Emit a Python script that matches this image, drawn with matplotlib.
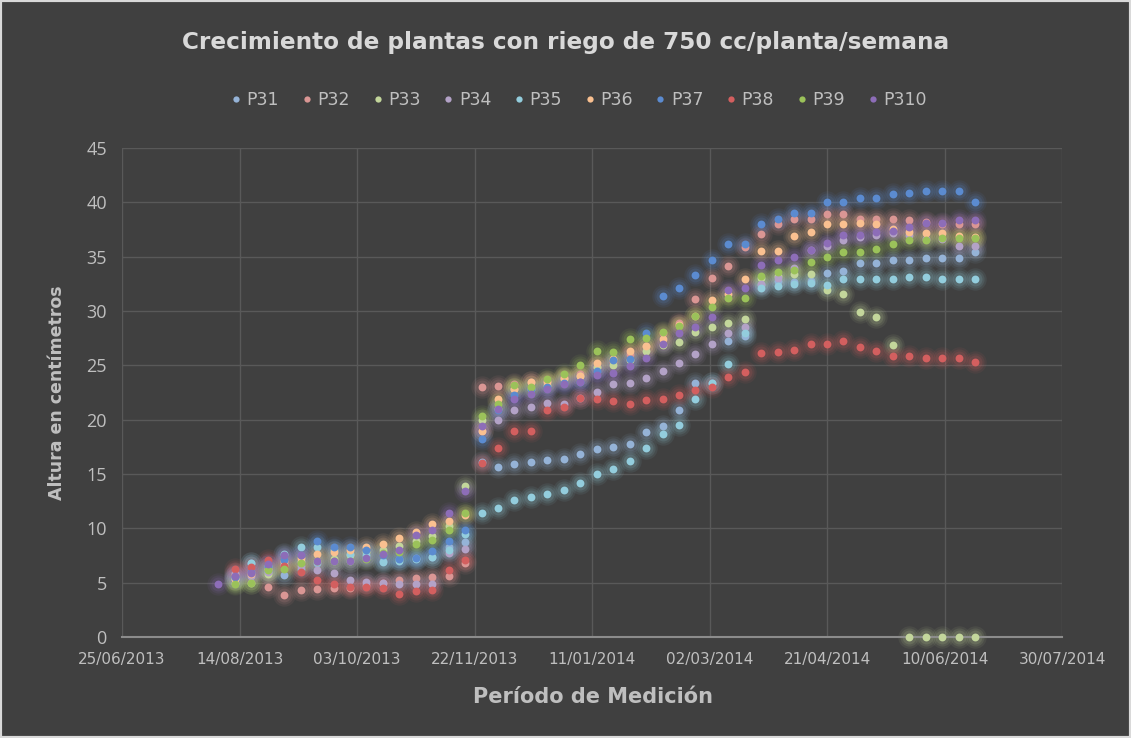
import matplotlib
matplotlib.use("Agg")
import matplotlib.pyplot as plt
import matplotlib.dates as mdates
from matplotlib.lines import Line2D
from matplotlib.patches import Rectangle
from datetime import datetime
import numpy as np

nan = np.nan

# fechas de medición (semanales)
fechas = ["2013-08-05", "2013-08-12", "2013-08-19", "2013-08-26", "2013-09-02", "2013-09-09",
          "2013-09-16", "2013-09-23", "2013-09-30", "2013-10-07", "2013-10-14", "2013-10-21",
          "2013-10-28", "2013-11-04", "2013-11-11", "2013-11-18", "2013-11-25", "2013-12-02",
          "2013-12-09", "2013-12-16", "2013-12-23", "2013-12-30", "2014-01-06", "2014-01-13",
          "2014-01-20", "2014-01-27", "2014-02-03", "2014-02-10", "2014-02-17", "2014-02-24",
          "2014-03-03", "2014-03-10", "2014-03-17", "2014-03-24", "2014-03-31", "2014-04-07",
          "2014-04-14", "2014-04-21", "2014-04-28", "2014-05-05", "2014-05-12", "2014-05-19",
          "2014-05-26", "2014-06-02", "2014-06-09", "2014-06-16", "2014-06-23"]

p31 = [nan, 5.5, 6.8, 6.0, 5.7, 6.3, 6.8, 7.0, 7.0, 7.3, 7.0, 7.2, 7.3, 7.4, 8.3, 8.7,
       16.1, 15.6, 15.9, 16.1, 16.3, 16.4, 16.8, 17.3, 17.5, 17.8, 18.9, 19.4, 20.9, 23.4, 23.4,
       27.2, 27.7, 32.4, 32.8, 32.7, 32.8, 33.5, 33.7, 34.4, 34.4, 34.7, 34.7, 34.9, 34.9, 34.9, 35.4]
p32 = [nan, 5.8, 6.0, 4.6, 3.9, 4.3, 4.4, 4.5, 4.5, 4.8, 5.0, 5.2, 5.4, 5.5, 5.6, 6.8,
       23.0, 23.1, 23.3, 23.5, 23.6, 23.9, 24.2, 24.8, 25.3, 26.0, 26.8, 28.0, 28.9, 31.1, 33.0,
       34.1, 35.9, 37.1, 38.0, 38.5, 38.5, 38.9, 38.9, 38.5, 38.5, 38.5, 38.4, 38.2, 38.0, 38.0, 38.0]
p33 = [nan, 5.0, 5.0, 5.8, 6.6, 7.0, 7.0, 7.2, 7.5, 7.8, 8.0, 8.4, 8.8, 9.3, 10.2, 13.9,
       20.0, 21.0, 22.8, 22.8, 23.2, 23.7, 24.0, 24.8, 25.0, 25.5, 26.3, 26.9, 27.1, 28.1, 28.5,
       28.9, 29.3, 33.0, 33.2, 33.4, 33.4, 31.9, 31.6, 29.9, 29.4, 26.9, 0, 0, 0, 0, 0]
p34 = [nan, 5.9, 5.6, 6.0, 6.8, 6.5, 6.2, 5.9, 5.2, 5.1, 5.0, 4.9, 4.9, 4.9, 7.7, 8.1,
       19.0, 20.0, 20.9, 21.2, 21.5, 21.4, 22.0, 22.5, 23.3, 23.4, 23.8, 24.5, 25.2, 26.0, 27.0,
       28.0, 28.5, 32.5, 33.0, 34.0, 35.6, 36.0, 36.5, 36.8, 37.0, 37.2, 37.0, 36.6, 36.6, 36.0, 36.0]
p35 = [nan, 5.3, 6.8, 6.5, 7.6, 8.3, 8.3, 8.0, 7.6, 7.5, 6.9, 7.0, 7.2, 7.4, 8.0, 9.5,
       11.4, 11.9, 12.6, 12.9, 13.2, 13.5, 14.2, 15.0, 15.5, 16.2, 17.4, 18.7, 19.5, 21.9, 23.4,
       25.1, 28.0, 32.1, 32.3, 32.5, 32.6, 32.4, 32.9, 32.9, 32.9, 32.9, 33.1, 33.1, 32.9, 32.9, 32.9]
p36 = [nan, 5.3, 5.8, 6.3, 7.0, 7.3, 7.6, 7.8, 8.0, 8.3, 8.6, 9.1, 9.7, 10.4, 10.7, 11.2,
       19.0, 21.9, 22.8, 23.5, 23.5, 23.8, 24.0, 25.2, 25.6, 26.3, 26.8, 27.4, 28.7, 29.5, 31.0,
       31.6, 32.9, 35.5, 35.5, 36.9, 37.3, 38.0, 38.0, 38.1, 38.0, 37.5, 37.3, 37.2, 37.2, 36.9, 36.8]
p37 = [nan, 5.5, 6.0, 6.5, 7.1, 7.5, 8.8, 8.3, 8.3, 8.0, 7.5, 7.2, 7.3, 7.9, 8.8, 9.8,
       18.2, 20.9, 22.3, 22.8, 23.0, 23.4, 23.5, 24.5, 25.5, 25.6, 28.0, 31.4, 32.1, 33.3, 34.7,
       36.2, 36.2, 38.0, 38.5, 39.0, 39.0, 40.0, 40.0, 40.4, 40.4, 40.8, 40.9, 41.0, 41.0, 41.0, 40.0]
p38 = [nan, 6.3, 6.4, 7.1, 6.5, 6.0, 5.2, 4.9, 4.6, 4.6, 4.5, 4.0, 4.2, 4.3, 6.2, 7.1,
       16.0, 17.4, 19.0, 19.0, 20.9, 21.2, 22.0, 21.9, 21.7, 21.4, 21.8, 21.9, 22.3, 22.7, 23.0,
       23.9, 24.4, 26.1, 26.2, 26.4, 27.0, 27.0, 27.2, 26.7, 26.3, 25.9, 25.9, 25.7, 25.7, 25.7, 25.3]
p39 = [nan, 4.9, 5.0, 6.2, 6.3, 6.8, 7.0, 7.0, 7.0, 7.2, 7.7, 7.8, 8.6, 8.9, 9.8, 11.4,
       20.3, 21.4, 23.2, 23.0, 23.7, 24.2, 25.0, 26.3, 26.2, 27.4, 27.5, 28.1, 28.6, 29.5, 30.4,
       31.2, 31.2, 33.2, 33.6, 33.8, 34.5, 35.0, 35.4, 35.4, 35.7, 36.2, 36.5, 36.5, 36.7, 36.7, 36.7]
p310 = [4.9, 5.6, 5.9, 6.7, 7.5, 7.5, 7.0, 7.0, 7.0, 7.3, 7.6, 8.0, 9.4, 9.8, 11.4, 13.4,
        19.4, 21.0, 21.9, 22.4, 22.8, 23.3, 23.5, 24.1, 24.3, 24.9, 25.7, 27.0, 28.0, 28.5, 29.4,
        31.9, 32.1, 34.2, 34.7, 35.0, 35.6, 36.3, 37.0, 37.0, 37.3, 37.4, 37.7, 38.1, 38.1, 38.4, 38.4]

nombres = ["P31", "P32", "P33", "P34", "P35", "P36", "P37", "P38", "P39", "P310"]
valores = [p31, p32, p33, p34, p35, p36, p37, p38, p39, p310]
colores = ["#95B3D7", "#DA9694", "#C3D69B", "#B3A2C7", "#93CDDD",
           "#FAC090", "#5B8BD0", "#D35F5F", "#9BC25A", "#8D6DB8"]

ticks_x = ["25/06/2013", "14/08/2013", "03/10/2013", "22/11/2013", "11/01/2014",
           "02/03/2014", "21/04/2014", "10/06/2014", "30/07/2014"]

bg = "#404040"
txt = "#bfbfbf"

fig = plt.figure(figsize=(11.31, 7.38), dpi=100, facecolor=bg)
ax = fig.add_axes([0.1079, 0.1369, 0.8311, 0.6626])
ax.set_facecolor(bg)

x = mdates.date2num([datetime.strptime(d, "%Y-%m-%d") for d in fechas])
tx = mdates.date2num([datetime.strptime(d, "%d/%m/%Y") for d in ticks_x])

# glow
for v, c in zip(valores, colores):
    for s, a in [(260, 0.08), (170, 0.11), (100, 0.15)]:
        ax.scatter(x, v, s=s, color=c, alpha=a, linewidths=0, zorder=2, clip_on=False)
for v, c in zip(valores, colores):
    ax.scatter(x, v, s=32, color=c, linewidths=0, zorder=3, clip_on=False)

ax.set_xlim(tx[0], tx[-1])
ax.set_ylim(0, 45)
ax.set_xticks(tx)
ax.set_xticklabels(ticks_x)
ax.set_yticks(range(0, 50, 5))
ax.grid(True, color="#595959", linewidth=1.0, zorder=0)
ax.set_axisbelow(True)
for sp in ["top", "right", "left"]:
    ax.spines[sp].set_visible(False)
ax.spines["bottom"].set_color("#8c8c8c")
ax.spines["bottom"].set_linewidth(1.5)
ax.tick_params(axis="both", length=0, colors=txt)
ax.tick_params(axis="x", labelsize=11, pad=11)
ax.tick_params(axis="y", labelsize=13, pad=11)
for lb in ax.get_yticklabels():
    lb.set_family("Open Sans")

fig.text(0.5, 0.942, "Crecimiento de plantas con riego de 750 cc/planta/semana",
         ha="center", va="center", fontsize=16.7, weight="bold", color="#d9d9d9")
fig.text(57 / 1131, 1 - 393 / 738, "Altura en centímetros", rotation=90,
         ha="center", va="center", fontsize=12.5, weight="bold", color=txt)
fig.text(593 / 1131, 1 - 697 / 738, "Período de Medición",
         ha="center", va="center", fontsize=15, weight="bold", color=txt)

handles = [Line2D([], [], marker="o", linestyle="", markersize=4.5, color=c, markeredgewidth=0)
           for c in colores]
fig.legend(handles, nombres, loc="center", bbox_to_anchor=(0.511, 0.864), ncol=10,
           frameon=False, fontsize=12.5, labelcolor=txt, handletextpad=0.2,
           columnspacing=1.2, handlelength=0.8)

fig.add_artist(Rectangle((0, 0), 1, 1, transform=fig.transFigure, fill=False,
                         edgecolor="#d9d9d9", linewidth=3))

plt.savefig("out.png", dpi=100, facecolor=bg)
